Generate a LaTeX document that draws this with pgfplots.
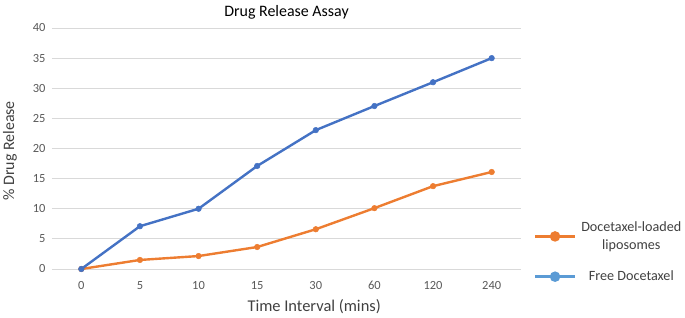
\documentclass[border=0pt]{standalone}
\usepackage{pgfplots}
\pgfplotsset{compat=1.18}
\usepackage{fontspec}
\setmainfont{Carlito}
\definecolor{cblue}{HTML}{4472C4}
\definecolor{lblue}{HTML}{5B9BD5}
\definecolor{corange}{HTML}{ED7D31}
\definecolor{gridc}{HTML}{D9D9D9}
\definecolor{tickc}{HTML}{595959}
\definecolor{textc}{HTML}{404040}
\begin{document}
\begin{tikzpicture}
\path[use as bounding box] (-52bp,-49bp) rectangle (633bp,269bp);
\begin{axis}[
  scale only axis,
  width=469bp, height=241bp,
  anchor=south west, at={(0,0)},
  xmin=-0.5, xmax=7.5, ymin=0, ymax=40,
  xtick={0,...,7},
  xticklabels={0,5,10,15,30,60,120,240},
  ytick={0,5,...,40},
  axis line style={draw=none},
  major tick length=0pt,
  ymajorgrids, grid style={gridc, line width=1bp},
  tick label style={font=\fontsize{12.5}{14}\selectfont, text=tickc},
  /pgf/number format/assume math mode=true,
  xticklabel style={yshift=-9bp},
  yticklabel style={xshift=-3bp},
  title={Drug Release Assay},
  title style={at={(axis description cs:0.5,1)}, anchor=center, yshift=10bp, font=\fontsize{16}{18}\selectfont, text=black},
  xlabel={Time Interval (mins)},
  xlabel style={at={(axis description cs:0.559,0)}, anchor=center, yshift=-38bp, font=\fontsize{16.5}{18}\selectfont, text=textc},
  ylabel={\% Drug Release},
  ylabel style={at={(axis description cs:0,0.49)}, anchor=center, yshift=42bp, font=\fontsize{16}{18}\selectfont, text=textc},
  legend style={at={(axis description cs:1.027,0.205)}, anchor=north west, draw=none, fill=none, inner sep=0pt,
    font=\fontsize{14.2}{18}\selectfont, text=textc, row sep=16bp,
    nodes={align=center, inner xsep=5bp}},
  legend cell align=center,
  legend image code/.code={\draw[mark repeat=2,mark phase=2,#1] plot coordinates {(0bp,0bp) (20bp,0bp) (40bp,0bp)};},
]
\addplot[corange, line width=2.4bp, mark=*, mark size=2.8bp, mark options={fill=corange, draw=corange, line width=0.5bp}, forget plot] coordinates {
(0,0) (1,1.5) (2,2.15) (3,3.65) (4,6.6) (5,10.1) (6,13.75) (7,16.1)};
\addplot[cblue, line width=2.4bp, mark=*, mark size=2.8bp, mark options={fill=cblue, draw=cblue, line width=0.5bp}, forget plot] coordinates {
(0,0) (1,7.1) (2,10.0) (3,17.1) (4,23.05) (5,27.05) (6,31.0) (7,35.0)};
\addlegendimage{corange, line width=2.4bp, mark=*, mark size=4bp, mark options={fill=corange, draw=corange}}
\addlegendentry{Docetaxel-loaded\\liposomes}
\addlegendimage{lblue, line width=2.4bp, mark=*, mark size=4bp, mark options={fill=lblue, draw=lblue}}
\addlegendentry{Free Docetaxel}
\end{axis}
\end{tikzpicture}
\end{document}
